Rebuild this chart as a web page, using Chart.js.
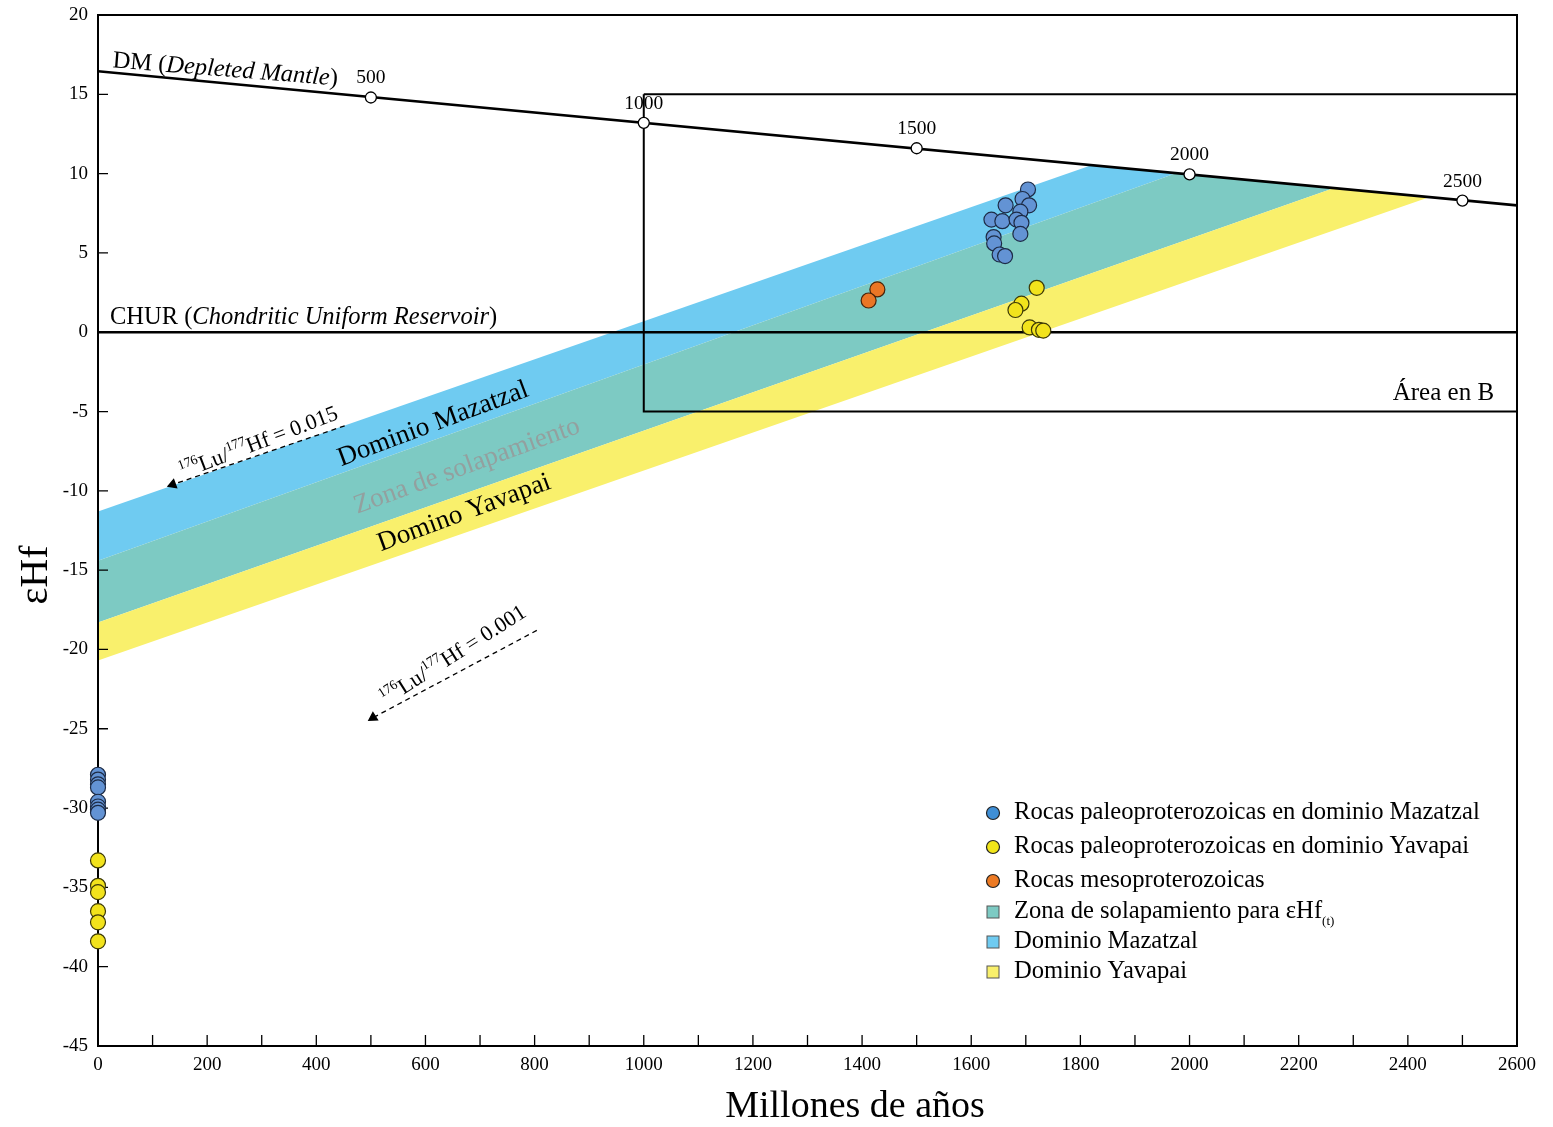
<!DOCTYPE html>
<html lang="es">
<head>
<meta charset="UTF-8">
<title>εHf - Millones de años</title>
<script src="https://cdn.jsdelivr.net/npm/chart.js"></script>
<style>
  body { margin: 0; background: #fff; }
  #wrap { width: 1553px; height: 1127px; }
</style>
</head>
<body>
<div id="wrap"><canvas id="hfChart" width="1553" height="1127"></canvas></div>
<script>
// --- datos: edad (Ma) y εHf ---
const mazatzalAge = [1704, 1694, 1706, 1663, 1690, 1637, 1657, 1683, 1692, 1690, 1641, 1642, 1652, 1662];
const mazatzalHf  = [9.0, 8.4, 8.0, 8.0, 7.6, 7.1, 7.0, 7.1, 6.9, 6.2, 6.0, 5.6, 4.9, 4.8];
const mazatzalNowHf = [-27.9, -28.2, -28.5, -28.7, -29.6, -29.9, -30.1, -30.3];

const yavapaiAge = [1720, 1692, 1681, 1707, 1724, 1732];
const yavapaiHf  = [2.8, 1.8, 1.4, 0.3, 0.15, 0.1];
const yavapaiNowHf = [-33.3, -34.9, -35.3, -36.5, -37.2, -38.4];

const mesoAge = [1428, 1412];
const mesoHf  = [2.7, 2.0];

// manto empobrecido y CHUR
const dmAge = [0, 2600];
const dmHf  = [16.45, 8.0];
const dmMarkAge = [500, 1000, 1500, 2000, 2500];
const dmMarkHf  = [14.8, 13.2, 11.6, 9.95, 8.3];
const churAge = [0, 2600];
const churHf  = [0, 0];

// franjas de evolución (vértices)
const mazBandAge = [0, 1820, 1975, 0];
const mazBandHf  = [-11.3, 10.53, 10.03, -14.4];
const overlapBandAge = [0, 1975, 2265, 0];
const overlapBandHf  = [-14.4, 10.03, 9.09, -18.3];
const yavBandAge = [0, 2265, 2440, 0];
const yavBandHf  = [-18.3, 9.09, 8.52, -20.7];

// recuadro del área ampliada
const areaBAge = [1000, 2600, 2600, 1000, 1000];
const areaBHf  = [15, 15, -5, -5, 15];

// flechas 176Lu/177Hf
const lu015Age = [452, 137];
const lu015Hf  = [-5.9, -9.6];
const lu001Age = [804, 504];
const lu001Hf  = [-18.8, -24.3];

const xTicks = { min: 0, max: 2600, step: 100, labelEvery: 200 };
const yTicks = { min: -45, max: 20, step: 5 };

const pts = (xs, ys) => xs.map((x, i) => ({ x: x, y: ys[i] }));
const atZero = ys => ys.map(y => ({ x: 0, y: y }));

const SERIF = '"Liberation Serif", "Times New Roman", serif';
const C_BLUE_BAND = '#6fcbf1';
const C_TEAL_BAND = '#7dcac3';
const C_YEL_BAND = '#f9f06c';

function band(label, data, color, order) {
  return { label, data, showLine: true, fill: 'shape', backgroundColor: color,
           borderWidth: 0, borderColor: color, pointRadius: 0, order };
}
function line(label, data, width, order, dash) {
  return { label, data, showLine: true, fill: false, borderColor: '#000', borderWidth: width,
           borderDash: dash || [], pointRadius: 0, order };
}
function arrow(label, data) {
  const d = line(label, data, 1.3, 4, [5, 4]);
  d.pointRadius = [0, 5];
  d.pointStyle = 'triangle';
  d.pointBackgroundColor = '#000';
  d.pointBorderColor = '#000';
  return d;
}
function dots(label, data, fillColor, edge) {
  return { label, data, showLine: false, clip: false, pointRadius: 7.5, pointHoverRadius: 7.5,
           pointBackgroundColor: fillColor, pointBorderColor: edge, pointBorderWidth: 1.2, order: 1 };
}

// texto con tramos (normal / cursiva / superíndice)
function drawRuns(ctx, runs, x, y, angle, align, baseline) {
  ctx.save();
  ctx.translate(x, y);
  ctx.rotate(-angle * Math.PI / 180);
  ctx.textAlign = 'left';
  ctx.textBaseline = baseline || 'alphabetic';
  let w = 0;
  runs.forEach(r => { ctx.font = r.font; w += ctx.measureText(r.t).width; });
  let cx = align === 'center' ? -w / 2 : (align === 'right' ? -w : 0);
  runs.forEach(r => {
    ctx.font = r.font;
    ctx.fillStyle = r.color || '#000';
    ctx.fillText(r.t, cx, r.dy || 0);
    cx += ctx.measureText(r.t).width;
  });
  ctx.restore();
}
const n = s => `${s}px ${SERIF}`;
const it = s => `italic ${s}px ${SERIF}`;

function luRuns(val, size) {
  return [
    { t: '176', font: n(size * 0.62), dy: -size * 0.32 },
    { t: 'Lu/', font: n(size) },
    { t: '177', font: n(size * 0.62), dy: -size * 0.32 },
    { t: 'Hf = ' + val, font: n(size) }
  ];
}

const framePlugin = {
  id: 'frame',
  beforeDatasetDraw(chart, args) {
    if (chart.data.datasets[args.index].label !== 'CHUR') return;
    const { ctx, chartArea: a, scales: { x, y } } = chart;
    ctx.save();
    ctx.strokeStyle = '#000';
    ctx.lineWidth = 2;
    ctx.strokeRect(a.left, a.top, a.right - a.left, a.bottom - a.top);
    ctx.lineWidth = 1.3;
    ctx.beginPath();
    for (let v = xTicks.min + xTicks.step; v < xTicks.max; v += xTicks.step) {
      const px = x.getPixelForValue(v);
      ctx.moveTo(px, a.bottom); ctx.lineTo(px, a.bottom - 11);
    }
    for (let v = yTicks.min + yTicks.step; v < yTicks.max; v += yTicks.step) {
      const py = y.getPixelForValue(v);
      ctx.moveTo(a.left, py); ctx.lineTo(a.left + 10, py);
    }
    ctx.stroke();
    ctx.restore();
  }
};

const labelPlugin = {
  id: 'labels',
  afterDatasetsDraw(chart) {
    const { ctx, chartArea: a, scales: { x, y } } = chart;
    const P = (vx, vy) => [x.getPixelForValue(vx), y.getPixelForValue(vy)];

    let [px, py] = P(26, 16.7);
    drawRuns(ctx, [{ t: 'DM (', font: n(24.5) }, { t: 'Depleted Mantle', font: it(24.5) }, { t: ')', font: n(24.5) }], px, py, -4.6, 'left');

    dmMarkAge.forEach((v, i) => {
      const [mx, my] = P(v, dmMarkHf[i]);
      drawRuns(ctx, [{ t: String(v), font: n(19.5) }], mx, my - 14, 0, 'center');
    });

    [px, py] = P(22, 0.5);
    drawRuns(ctx, [{ t: 'CHUR (', font: n(24.5) }, { t: 'Chondritic Uniform Reservoir', font: it(24.5) }, { t: ')', font: n(24.5) }], px, py, 0, 'left');

    [px, py] = P(2558, -4.3);
    drawRuns(ctx, [{ t: 'Área en B', font: n(25) }], px, py, 0, 'right');

    [px, py] = P(614, -5.8);
    drawRuns(ctx, [{ t: 'Dominio Mazatzal', font: n(27) }], px, py, 20.5, 'center', 'middle');
    [px, py] = P(676, -8.45);
    drawRuns(ctx, [{ t: 'Zona de solapamiento', font: n(27), color: '#93a09f' }], px, py, 20, 'center', 'middle');
    [px, py] = P(671, -11.4);
    drawRuns(ctx, [{ t: 'Domino Yavapai', font: n(27) }], px, py, 20.3, 'center', 'middle');

    [px, py] = P(295, -7.0);
    drawRuns(ctx, luRuns('0.015', 22), px, py, 21, 'center', 'middle');
    [px, py] = P(652, -20.4);
    drawRuns(ctx, luRuns('0.001', 22), px, py, 32.5, 'center', 'middle');

    // títulos de ejes
    drawRuns(ctx, [{ t: 'εHf', font: n(40) }], 36, 575, 90, 'center', 'middle');
    drawRuns(ctx, [{ t: 'Millones de años', font: n(38) }], 855, 1107, 0, 'center', 'middle');

    // leyenda
    const lx = a.right - 524, tx = a.right - 503;
    const circ = [['Rocas paleoproterozoicas en dominio Mazatzal', '#3f8fd6', 813],
                  ['Rocas paleoproterozoicas en dominio Yavapai', '#f1e51a', 847],
                  ['Rocas mesoproterozoicas', '#ec7a24', 881]];
    circ.forEach(([txt, col, yy]) => {
      ctx.beginPath();
      ctx.arc(lx, yy, 6.5, 0, Math.PI * 2);
      ctx.fillStyle = col; ctx.fill();
      ctx.lineWidth = 1.2; ctx.strokeStyle = '#222'; ctx.stroke();
      drawRuns(ctx, [{ t: txt, font: n(24.6) }], tx, yy, 0, 'left', 'middle');
    });
    const sq = [['Zona de solapamiento para εHf', C_TEAL_BAND, 912, true],
                ['Dominio Mazatzal', C_BLUE_BAND, 942],
                ['Dominio Yavapai', C_YEL_BAND, 972]];
    sq.forEach(([txt, col, yy, sub]) => {
      ctx.fillStyle = col;
      ctx.fillRect(lx - 6, yy - 6, 12, 12);
      ctx.lineWidth = 1; ctx.strokeStyle = '#555';
      ctx.strokeRect(lx - 6, yy - 6, 12, 12);
      const runs = [{ t: txt, font: n(24.6) }];
      if (sub) runs.push({ t: '(t)', font: n(13), dy: 10 });
      drawRuns(ctx, runs, tx, yy, 0, 'left', 'middle');
    });
  }
};

const datasets = [
  dots('Rocas paleoproterozoicas en dominio Mazatzal', pts(mazatzalAge, mazatzalHf).concat(atZero(mazatzalNowHf)), '#6393d4', '#1d2b45'),
  dots('Rocas paleoproterozoicas en dominio Yavapai', pts(yavapaiAge, yavapaiHf).concat(atZero(yavapaiNowHf)), '#f2e31c', '#3d3a08'),
  dots('Rocas mesoproterozoicas', pts(mesoAge, mesoHf), '#ea7625', '#4a2308'),
  { label: 'DM marcas', data: pts(dmMarkAge, dmMarkHf), showLine: false, pointRadius: 5.5,
    pointBackgroundColor: '#fff', pointBorderColor: '#000', pointBorderWidth: 1.3, order: 2 },
  line('DM', pts(dmAge, dmHf), 2.6, 3),
  line('CHUR', pts(churAge, churHf), 2.6, 3),
  arrow('Lu/Hf 0.015', pts(lu015Age, lu015Hf)),
  arrow('Lu/Hf 0.001', pts(lu001Age, lu001Hf)),
  line('Área en B', pts(areaBAge, areaBHf), 2, 5),
  band('Dominio Yavapai', pts(yavBandAge, yavBandHf), C_YEL_BAND, 10),
  band('Zona de solapamiento', pts(overlapBandAge, overlapBandHf), C_TEAL_BAND, 11),
  band('Dominio Mazatzal', pts(mazBandAge, mazBandHf), C_BLUE_BAND, 12)
];
// orientación de las puntas de flecha
datasets[6].pointRotation = [0, 250];
datasets[7].pointRotation = [0, 238];

new Chart(document.getElementById('hfChart'), {
  type: 'scatter',
  data: { datasets },
  options: {
    responsive: false,
    animation: false,
    devicePixelRatio: 1,
    layout: { padding: { top: 15, right: 36, left: 0, bottom: 0 } },
    plugins: { legend: { display: false }, tooltip: { enabled: false } },
    scales: {
      x: {
        type: 'linear', min: xTicks.min, max: xTicks.max,
        afterFit: s => { s.height = 81; s.paddingLeft = 0; s.paddingRight = 0; },
        grid: { display: false, drawTicks: false },
        border: { display: false },
        ticks: { stepSize: xTicks.step, autoSkip: false, maxRotation: 0, padding: 8, color: '#000',
                 font: { family: SERIF, size: 19 },
                 callback: v => (v % xTicks.labelEvery === 0 ? String(v) : '') }
      },
      y: {
        type: 'linear', min: yTicks.min, max: yTicks.max,
        afterFit: s => { s.width = 98; s.paddingTop = 0; s.paddingBottom = 0; },
        grid: { display: false, drawTicks: false },
        border: { display: false },
        ticks: { stepSize: yTicks.step, padding: 10, color: '#000', font: { family: SERIF, size: 19 } }
      }
    }
  },
  plugins: [framePlugin, labelPlugin]
});
</script>
</body>
</html>
